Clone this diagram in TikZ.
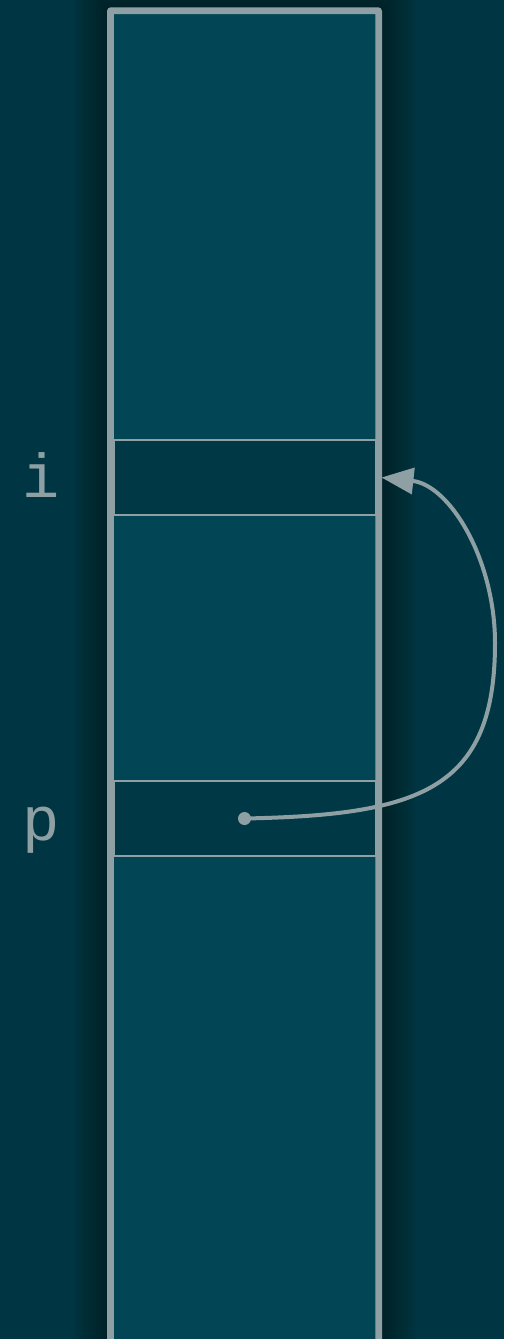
\documentclass[tikz,border=0pt]{standalone}
\usepackage{fontspec}
\newfontfamily\labelfont{Liberation Mono}
\usepackage{tikz}
\usetikzlibrary{arrows.meta, positioning, backgrounds}
\usepackage{xcolor}
\definecolor{pagebg}{RGB}{0,54,67}
\definecolor{colfill}{RGB}{2,69,85}
\definecolor{cellfill}{RGB}{1,56,70}
\definecolor{linegray}{RGB}{143,160,165}
\tikzset{
  colbox/.style={rectangle, draw=linegray, line width=4.5pt, fill=colfill,
    rounded corners=2pt, minimum width=266pt, minimum height=1400pt, inner sep=0pt},
  cellbox/.style={rectangle, draw=linegray, line width=2pt, fill=cellfill,
    minimum width=262pt, minimum height=75pt, inner sep=0pt},
  varlabel/.style={text=linegray, font=\labelfont\fontsize{62}{62}\selectfont, anchor=base, inner sep=0pt},
  ptrdot/.style={circle, fill=linegray, minimum size=13pt, inner sep=0pt},
  ptrarrow/.style={-{Triangle[length=32pt,width=26pt]}, draw=linegray, line width=4pt}
}
\begin{document}
\begin{tikzpicture}[x=1pt, y=-1pt]
  \path[use as bounding box, clip] (0,0) rectangle (504,1339);

  % memory column
  \node[colbox, anchor=north] (col) at (244.5,9.5) {};
  \node[cellbox] (icell) at (244.5,477.5) {};
  \node[cellbox] (pcell) at (244.5,818.5) {};
  \draw[linegray, line width=4.5pt, rounded corners=2pt]
    (col.south west) -- (col.north west) -- (col.north east) -- (col.south east);

  \begin{scope}[on background layer]
    \fill[pagebg] (0,0) rectangle (504,1339);
    \foreach \r in {1,...,20}
      \fill[black, opacity=0.02, rounded corners=6pt]
        ([shift={(-1.8*\r,-1.8*\r)}]col.north west) rectangle ([shift={(1.8*\r,1.8*\r)}]col.south east);
  \end{scope}

  % labels
  \node[varlabel] (ilabel) at (41,497) {i};
  \node[varlabel] (plabel) at (41,840) {p};

  % pointer
  \node[ptrdot] (dot) at (pcell.center) {};
  \draw[ptrarrow] (dot.center) .. controls (420,815) and (495,790) .. (495,643)
    .. controls (495,560) and (450,485) .. ([xshift=5pt]icell.east);
\end{tikzpicture}
\end{document}
